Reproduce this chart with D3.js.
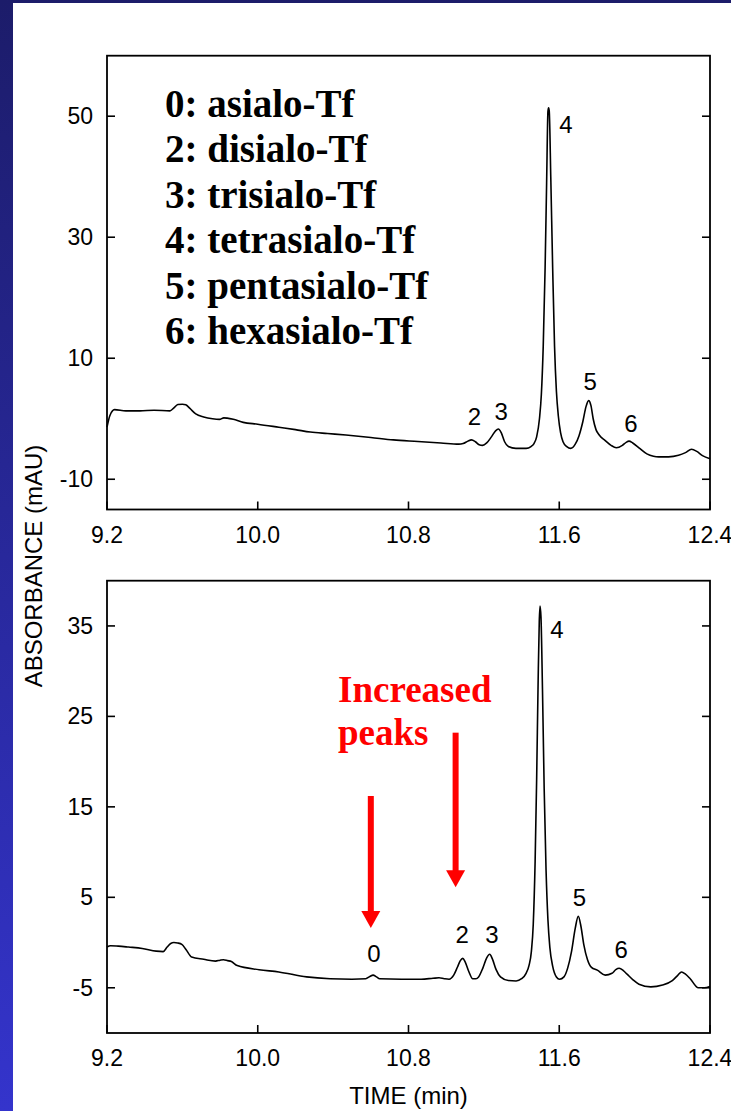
<!DOCTYPE html>
<html><head><meta charset="utf-8">
<script src="https://cdn.jsdelivr.net/npm/d3@7"></script>
<style>html,body{margin:0;padding:0;background:#fff;}svg{display:block;}</style>
</head><body>
<svg id="chart" width="731" height="1111"></svg>
<script>
// ---- data ----
const xTicks = [9.2, 10.0, 10.8, 11.6, 12.4];
const yTicksTop = [-10, 10, 30, 50];
const yTicksBottom = [-5, 5, 15, 25, 35];

const timeTop = [9.200,9.215,9.240,9.300,9.375,9.450,9.534,9.555,9.576,9.600,9.618,9.640,9.671,9.713,9.760,9.797,9.820,9.838,9.870,9.923,10.000,10.112,10.200,10.279,10.370,10.468,10.600,10.720,10.850,10.972,11.067,11.090,11.115,11.134,11.155,11.175,11.193,11.215,11.240,11.262,11.277,11.292,11.310,11.330,11.370,11.424,11.450,11.466,11.480,11.495,11.505,11.515,11.525,11.533,11.540,11.5435,11.547,11.555,11.565,11.575,11.585,11.595,11.607,11.620,11.640,11.661,11.685,11.705,11.725,11.742,11.756,11.768,11.780,11.795,11.812,11.844,11.875,11.903,11.935,11.955,11.970,11.990,12.023,12.065,12.100,12.128,12.180,12.233,12.270,12.302,12.330,12.360,12.400];
const absTop = [-1.4,0.5,1.5,1.3,1.3,1.4,1.3,1.8,2.35,2.4,2.3,1.7,0.8,0.3,0.0,-0.1,0.15,0.1,-0.1,-0.6,-0.9,-1.4,-1.8,-2.2,-2.45,-2.7,-3.1,-3.5,-3.75,-4.0,-4.2,-4.1,-3.7,-3.5,-3.8,-4.3,-4.4,-4.0,-3.0,-2.0,-1.7,-2.3,-3.8,-4.6,-4.9,-4.9,-4.6,-4.1,-3.0,0,4,12,25,39,50.8,51.4,50.8,40,25,12,4.5,0.5,-2.3,-3.8,-4.6,-4.9,-4.2,-2.8,-0.5,2.0,3.0,2.2,0.0,-1.8,-2.7,-3.6,-4.4,-4.8,-4.4,-3.9,-3.7,-4.0,-4.8,-5.8,-6.2,-6.3,-6.3,-6.05,-5.6,-5.05,-5.4,-6.1,-6.6];

const timeBottom = [9.200,9.219,9.260,9.314,9.387,9.461,9.498,9.519,9.538,9.555,9.575,9.597,9.620,9.649,9.713,9.776,9.800,9.818,9.840,9.860,9.891,10.007,10.112,10.259,10.384,10.500,10.573,10.595,10.612,10.630,10.647,10.763,10.867,10.930,10.962,10.990,11.015,11.040,11.060,11.075,11.088,11.100,11.120,11.141,11.158,11.172,11.195,11.215,11.231,11.245,11.265,11.288,11.330,11.371,11.400,11.424,11.440,11.452,11.462,11.472,11.480,11.488,11.494,11.498,11.503,11.511,11.520,11.530,11.540,11.550,11.565,11.585,11.602,11.625,11.645,11.665,11.685,11.701,11.715,11.730,11.750,11.771,11.802,11.844,11.880,11.900,11.918,11.940,11.960,11.990,12.023,12.086,12.148,12.200,12.230,12.249,12.270,12.295,12.338,12.370,12.400];
const absBottom = [-0.5,-0.35,-0.4,-0.5,-0.65,-0.95,-1.0,-0.5,-0.1,0.0,-0.05,-0.2,-0.8,-1.6,-1.85,-2.05,-1.95,-1.9,-2.0,-2.1,-2.55,-3.0,-3.25,-3.8,-4.0,-4.05,-4.0,-3.75,-3.6,-3.8,-4.0,-4.05,-4.05,-3.95,-3.9,-4.0,-4.05,-3.6,-2.7,-2.0,-1.75,-2.1,-3.2,-4.0,-4.0,-3.8,-2.8,-1.7,-1.3,-1.8,-3.0,-3.8,-4.2,-4.25,-4.0,-3.4,-2.5,-1.0,2,9,18,29,35.5,37.2,36,28,17,8,2.5,-0.5,-2.6,-3.8,-4.05,-3.8,-2.8,-1.0,1.6,2.9,1.8,-0.2,-1.9,-2.75,-3.05,-3.6,-3.4,-3.0,-2.85,-3.1,-3.5,-4.1,-4.6,-4.9,-4.7,-4.2,-3.6,-3.25,-3.5,-4.0,-5.0,-5.0,-4.85];

const legendLines = ["0: asialo-Tf","2: disialo-Tf","3: trisialo-Tf","4: tetrasialo-Tf","5: pentasialo-Tf","6: hexasialo-Tf"];

const peakLabelsTop = ["4","2","3","5","6"];
const peakLabelTopT = [11.636,11.150,11.292,11.764,11.981];
const peakLabelTopV = [47.2,-1.0,-0.2,4.75,-2.2];

const peakLabelsBottom = ["0","2","3","4","5","6"];
const peakLabelBottomT = [10.616,11.085,11.243,11.588,11.707,11.928];
const peakLabelBottomV = [-2.13,-0.09,-0.09,33.65,4.06,-1.76];

const annotationLines = ["Increased","peaks"];
const arrowT = [10.6, 11.05];
const arrowFrom = [16.2, 23.2];
const arrowTo = [1.6, 6.1];

// ---- layout ----
const W = 731, H = 1111;
const svg = d3.select("#chart");
const defs = svg.append("defs");
const grad = defs.append("linearGradient").attr("id","bg").attr("x1",0).attr("y1",0).attr("x2",0).attr("y2",1);
grad.append("stop").attr("offset","0%").attr("stop-color","#1c1c6a");
grad.append("stop").attr("offset","100%").attr("stop-color","#3434cc");
svg.append("rect").attr("width",W).attr("height",H).attr("fill","url(#bg)");
svg.append("rect").attr("x",13).attr("y",3).attr("width",W-13).attr("height",H-3).attr("fill","#fff");

const sans = "'Liberation Sans', Arial, sans-serif";
const serif = "'Liberation Serif', 'Times New Roman', serif";
const x = d3.scaleLinear().domain([9.2, 12.4]).range([107, 710]);

function panel(top, bottom, domain, ticks, times, values) {
  const y = d3.scaleLinear().domain(domain).range([bottom, top]);
  const g = svg.append("g");
  const tl = 8;
  ticks.forEach(v => {
    g.append("line").attr("x1",x.range()[0]).attr("x2",x.range()[0]+tl).attr("y1",y(v)).attr("y2",y(v)).attr("stroke","#000").attr("stroke-width",1.6);
    g.append("line").attr("x1",x.range()[1]).attr("x2",x.range()[1]-tl).attr("y1",y(v)).attr("y2",y(v)).attr("stroke","#000").attr("stroke-width",1.6);
    g.append("text").attr("x",x.range()[0]-14).attr("y",y(v)).attr("dy","0.35em").attr("text-anchor","end")
      .attr("font-family",sans).attr("font-size",23).text(v);
  });
  xTicks.forEach(t => {
    g.append("line").attr("x1",x(t)).attr("x2",x(t)).attr("y1",bottom).attr("y2",bottom-tl).attr("stroke","#000").attr("stroke-width",1.6);
    g.append("text").attr("x",x(t)).attr("y",bottom+33).attr("text-anchor","middle")
      .attr("font-family",sans).attr("font-size",23).text(t.toFixed(1));
  });
  const line = d3.line().x(d => x(d[0])).y(d => y(d[1])).curve(d3.curveMonotoneX);
  g.append("path").datum(times.map((t,i)=>[t, values[i]])).attr("d", line)
    .attr("fill","none").attr("stroke","#000").attr("stroke-width",1.6);
  g.append("rect").attr("x",x.range()[0]).attr("y",top).attr("width",x.range()[1]-x.range()[0]).attr("height",bottom-top)
    .attr("fill","none").attr("stroke","#000").attr("stroke-width",1.8);
  return {g, y};
}

const P1 = panel(55.7, 509.5, [-15, 60], yTicksTop, timeTop, absTop);
const P2 = panel(580.7, 1033, [-10, 40], yTicksBottom, timeBottom, absBottom);

peakLabelsTop.forEach((s,i) => {
  P1.g.append("text").attr("x",x(peakLabelTopT[i])).attr("y",P1.y(peakLabelTopV[i])).attr("text-anchor","middle")
    .attr("font-family",sans).attr("font-size",24).text(s);
});
peakLabelsBottom.forEach((s,i) => {
  P2.g.append("text").attr("x",x(peakLabelBottomT[i])).attr("y",P2.y(peakLabelBottomV[i])).attr("text-anchor","middle")
    .attr("font-family",sans).attr("font-size",24).text(s);
});

legendLines.forEach((s,i) => {
  svg.append("text").attr("x",165).attr("y",117 + i*45.4).attr("font-family",serif).attr("font-weight","bold")
    .attr("font-size",39).attr("fill","#000").text(s);
});

annotationLines.forEach((s,i) => {
  svg.append("text").attr("x",338).attr("y",702 + i*43).attr("font-family",serif).attr("font-weight","bold")
    .attr("font-size",37).attr("fill","#ff0000").text(s);
});
arrowT.forEach((t,i) => {
  const ax = x(t), y0 = P2.y(arrowFrom[i]), y1 = P2.y(arrowTo[i]);
  const hl = 17, hw = 9.5;
  svg.append("rect").attr("x",ax-3).attr("y",y0).attr("width",6).attr("height",y1-y0-hl+1).attr("fill","#ff0000");
  svg.append("path").attr("d",`M${ax-hw},${y1-hl} L${ax+hw},${y1-hl} L${ax},${y1} Z`).attr("fill","#ff0000");
});

svg.append("text").attr("x",408.5).attr("y",1104).attr("text-anchor","middle").attr("font-family",sans).attr("font-size",24).text("TIME (min)");
svg.append("text").attr("transform","translate(42,566) rotate(-90)").attr("text-anchor","middle").attr("font-family",sans).attr("font-size",24).text("ABSORBANCE (mAU)");
</script>
</body></html>
